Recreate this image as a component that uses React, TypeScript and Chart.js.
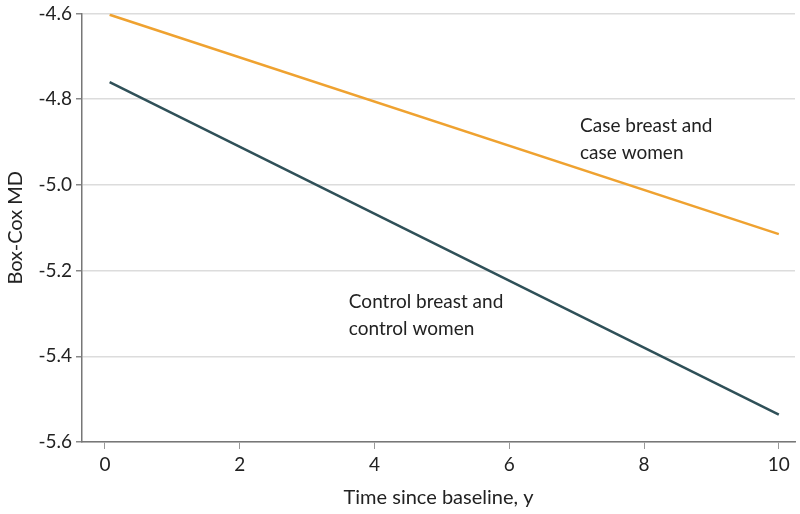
import React, { useEffect, useRef } from "react";
import { Chart, registerables } from "chart.js";

Chart.register(...registerables);

const caseX = [0.07, 10];
const caseY = [-4.603, -5.115];
const controlX = [0.07, 10];
const controlY = [-4.76, -5.536];
const xTicks = [0, 2, 4, 6, 8, 10];
const yTicks = [-5.6, -5.4, -5.2, -5.0, -4.8, -4.6];
const labels = [
  { lines: ["Case breast and", "case women"], x: 7.05, y: -4.863 },
  { lines: ["Control breast and", "control women"], x: 3.62, y: -5.274 },
];

const FONT = "Lato, 'Open Sans', sans-serif";

export default function App() {
  const ref = useRef<HTMLCanvasElement | null>(null);
  useEffect(() => {
    if (!ref.current) return;
    const textPlugin = {
      id: "textLabels",
      afterDatasetsDraw(chart: any) {
        const ctx = chart.ctx;
        const xs = chart.scales.x;
        const ys = chart.scales.y;
        ctx.save();
        ctx.fillStyle = "#222";
        ctx.font = `19px ${FONT}`;
        ctx.textAlign = "left";
        ctx.textBaseline = "middle";
        labels.forEach((l) => {
          const px = xs.getPixelForValue(l.x);
          const py = ys.getPixelForValue(l.y);
          l.lines.forEach((t, i) => ctx.fillText(t, px, py + i * 27));
        });
        ctx.restore();
      },
    };
    const chart = new Chart(ref.current, {
      type: "scatter",
      data: {
        datasets: [
          {
            label: "Case",
            data: caseX.map((x, i) => ({ x, y: caseY[i] })),
            showLine: true,
            borderColor: "#EFA230",
            borderWidth: 2.5,
            pointRadius: 0,
          },
          {
            label: "Control",
            data: controlX.map((x, i) => ({ x, y: controlY[i] })),
            showLine: true,
            borderColor: "#2F5058",
            borderWidth: 2.5,
            pointRadius: 0,
          },
        ],
      },
      options: {
        animation: false,
        responsive: false,
        layout: { padding: { top: 12, right: 5, left: 0, bottom: 0 } },
        plugins: { legend: { display: false }, tooltip: { enabled: false } },
        scales: {
          x: {
            type: "linear",
            min: -0.34,
            max: 10.24,
            afterBuildTicks: (s: any) => {
              s.ticks = xTicks.map((v) => ({ value: v }));
            },
            afterFit: (s: any) => {
              s.height = 72;
            },
            ticks: { color: "#222", font: { size: 19, family: FONT }, padding: 4 },
            grid: { drawOnChartArea: false, drawTicks: true, tickLength: 7, tickColor: "#999" },
            border: { color: "#777", width: 1.5 },
            title: {
              display: true,
              text: "Time since baseline, y",
              color: "#222",
              font: { size: 20, family: FONT },
              padding: { top: 6 },
            },
          },
          y: {
            type: "linear",
            min: -5.6,
            max: -4.6,
            afterBuildTicks: (s: any) => {
              s.ticks = yTicks.map((v) => ({ value: v }));
            },
            afterFit: (s: any) => {
              s.width = 82;
            },
            ticks: {
              color: "#222",
              font: { size: 19, family: FONT, lineHeight: 1 },
              padding: 4,
              callback: (v: any) => Number(v).toFixed(1),
            },
            grid: { color: "#dcdcdc", lineWidth: 1.5, tickLength: 6, tickColor: "#888" },
            border: { color: "#777", width: 1.5 },
            title: {
              display: true,
              text: "Box-Cox MD",
              color: "#222",
              font: { size: 20, family: FONT },
              padding: { bottom: 0 },
            },
          },
        },
      },
      plugins: [textPlugin],
    });
    return () => chart.destroy();
  }, []);
  return (
    <div style={{ position: "absolute", left: 0, top: 0, width: 800, height: 514, background: "#fff" }}>
      <canvas ref={ref} width={800} height={514} />
    </div>
  );
}
